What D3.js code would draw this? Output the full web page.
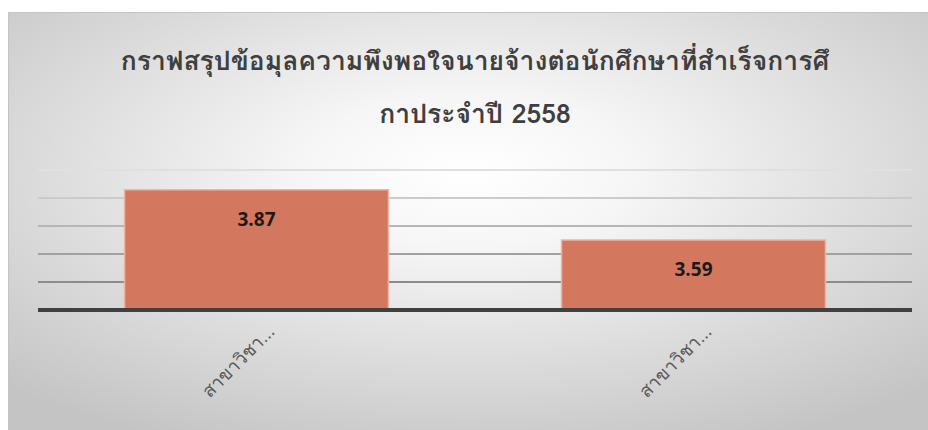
<!DOCTYPE html>
<html>
<head>
<meta charset="utf-8">
<script src="https://cdn.jsdelivr.net/npm/d3@7"></script>
<style>
  body { margin: 0; background: #fff; }
  svg { display: block; }
</style>
</head>
<body>
<div id="chart"></div>
<script>
// chart data
const titleLines = ["กราฟสรุปข้อมุลความพึงพอใจนายจ้างต่อนักศึกษาที่สำเร็จการศึ", "กาประจำปี 2558"];
const categories = ["สาขาวิชา…", "สาขาวิชา…"];
const values = [3.87, 3.59];
const yMin = 3.2, yMax = 3.98;

const W = 928, H = 430;
const margin = {top: 170, right: 16, bottom: 120, left: 38};
const thaiFont = "Tahoma, Loma, Garuda, 'Noto Serif Thai', 'Noto Sans Thai', 'Noto Sans', sans-serif";

const svg = d3.select("#chart").append("svg")
    .attr("width", W)
    .attr("height", H);

// background gradient like the office chart area
const defs = svg.append("defs");
const grad = defs.append("radialGradient")
    .attr("id", "bg")
    .attr("cx", "50%").attr("cy", "38%").attr("r", "72%");
grad.append("stop").attr("offset", "0%").attr("stop-color", "#ffffff");
grad.append("stop").attr("offset", "25%").attr("stop-color", "#f6f6f6");
grad.append("stop").attr("offset", "100%").attr("stop-color", "#c4c4c4");

svg.append("rect")
    .attr("x", 8).attr("y", 12)
    .attr("width", W - 8).attr("height", H - 12)
    .attr("fill", "url(#bg)");
svg.append("path")
    .attr("d", `M8.5,${H} V12.5 H${W}`)
    .attr("fill", "none")
    .attr("stroke", "#c4c4c4");

// title
svg.append("g").selectAll("text")
    .data(titleLines)
    .enter()
    .append("text")
    .attr("x", 475)
    .attr("y", (d, i) => 70 + i * 53)
    .attr("text-anchor", "middle")
    .attr("font-family", thaiFont)
    .attr("font-size", 26.5)
    .attr("font-weight", "bold")
    .attr("fill", "#3f3f3f")
    .text(d => d);

const x = d3.scaleBand()
    .domain(d3.range(categories.length))
    .range([margin.left, W - margin.right])
    .paddingInner(0.396)
    .paddingOuter(0.198);

const y = d3.scaleLinear()
    .domain([yMin, yMax])
    .range([310, margin.top]);

// gridlines
const gridVals = d3.range(1, 6).map(i => yMin + i * (yMax - yMin) / 5);
const gridColor = d3.interpolateRgb("#8c8c8c", "#e0e0e0");
svg.append("g").selectAll("line")
    .data(gridVals)
    .enter()
    .append("line")
    .attr("x1", margin.left)
    .attr("x2", W - margin.right)
    .attr("y1", d => y(d))
    .attr("y2", d => y(d))
    .attr("stroke", (d, i) => gridColor(i / 4))
    .attr("stroke-width", 2);

// bars
svg.append("g").selectAll("rect")
    .data(values)
    .enter()
    .append("rect")
    .attr("x", (d, i) => x(i))
    .attr("y", d => y(d))
    .attr("width", x.bandwidth())
    .attr("height", d => y(yMin) - y(d))
    .attr("fill", "#d4775f")
    .attr("stroke", "#efb4a4")
    .attr("stroke-width", 1.5);

// value labels
svg.append("g").selectAll("text")
    .data(values)
    .enter()
    .append("text")
    .attr("x", (d, i) => x(i) + x.bandwidth() / 2)
    .attr("y", d => y(d) + 36)
    .attr("text-anchor", "middle")
    .attr("font-family", "'Open Sans', 'Liberation Sans', sans-serif")
    .attr("font-size", 19)
    .attr("font-weight", "bold")
    .attr("fill", "#1a1a1a")
    .text(d => d.toFixed(2));

// x axis
svg.append("line")
    .attr("x1", margin.left)
    .attr("x2", W - margin.right)
    .attr("y1", y(yMin))
    .attr("y2", y(yMin))
    .attr("stroke", "#404040")
    .attr("stroke-width", 4);

svg.append("g").selectAll("text")
    .data(categories)
    .enter()
    .append("text")
    .attr("transform", (d, i) => `translate(${x(i) + x.bandwidth() / 2 + 19},${y(yMin) + 23}) rotate(-45)`)
    .attr("text-anchor", "end")
    .attr("font-family", thaiFont)
    .attr("font-size", 18.5)
    .attr("fill", "#595959")
    .text(d => d);
</script>
</body>
</html>
